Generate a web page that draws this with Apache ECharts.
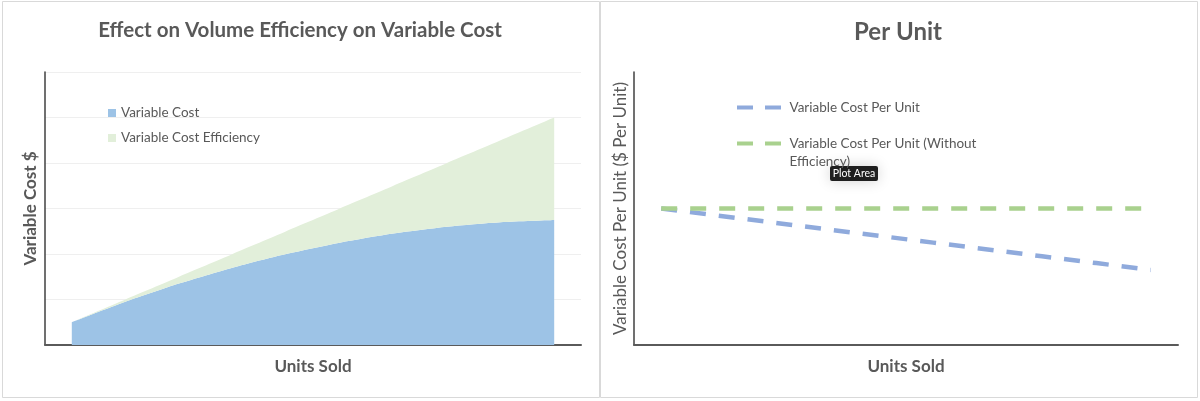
<!DOCTYPE html>
<html>
<head>
<meta charset="utf-8">
<script src="https://cdn.jsdelivr.net/npm/echarts@6/dist/echarts.min.js"></script>
<style>
html,body{margin:0;padding:0;background:#ffffff;}
#c{width:1200px;height:401px;}
</style>
</head>
<body>
<div id="c"></div>
<script>
// ---- data ----
const categories = ['1', '2', '3', '4', '5', '6', '7', '8', '9', '10'];
const variableCost = [0.5, 0.95, 1.35, 1.7, 2.0, 2.25, 2.45, 2.6, 2.7, 2.75];
const variableCostEfficiency = [0, 0.05, 0.15, 0.3, 0.5, 0.75, 1.05, 1.4, 1.8, 2.25];
const perUnit = [1.0, 0.95, 0.9, 0.85, 0.8, 0.75, 0.7, 0.65, 0.6, 0.55];
const perUnitWithoutEfficiency = [1, 1, 1, 1, 1, 1, 1, 1, 1, 1];

const FONT = 'Lato, "Open Sans", sans-serif';
const TXT = '#595959';
const LONG_NAME = 'Variable Cost Per Unit (Without Efficiency)';
const DASH_ICON = 'path://M0,0H16V4H0Z M28,0H44V4H28Z';

const chart = echarts.init(document.getElementById('c'), null, {renderer: 'canvas'});

const axisLineX = {show: true, lineStyle: {color: '#5a5a5a', width: 2}};
const axisLineY = {show: true, lineStyle: {color: '#404040', width: 1.5}};

chart.setOption({
  animation: false,
  backgroundColor: '#ffffff',
  textStyle: {fontFamily: FONT},
  graphic: [
    {type: 'rect', shape: {x: 2.5, y: 1.5, width: 597, height: 396}, style: {fill: 'none', stroke: '#d9d9d9', lineWidth: 1}, z: -10},
    {type: 'rect', shape: {x: 600.5, y: 1.5, width: 597, height: 396}, style: {fill: 'none', stroke: '#d9d9d9', lineWidth: 1}, z: -10},
    {
      type: 'group', left: 830, top: 166, z: 100,
      children: [
        {type: 'rect', shape: {x: 0, y: 0, width: 48, height: 15, r: 2},
         style: {fill: '#1f1f1f', shadowBlur: 14, shadowColor: 'rgba(0,0,0,0.18)'}},
        {type: 'text', x: 24, y: 7.5,
         style: {text: 'Plot Area', fill: '#ffffff', font: '10.5px ' + FONT, align: 'center', verticalAlign: 'middle'}}
      ]
    }
  ],
  title: [
    {text: 'Effect on Volume Efficiency on Variable Cost', left: 300, top: 20, textAlign: 'center', padding: 0,
     textStyle: {fontFamily: FONT, fontWeight: 'bold', fontSize: 20.5, color: TXT}},
    {text: 'Per Unit', left: 898, top: 20, textAlign: 'center', padding: 0,
     textStyle: {fontFamily: FONT, fontWeight: 'bold', fontSize: 24, color: TXT}}
  ],
  legend: [
    {
      data: ['Variable Cost', 'Variable Cost Efficiency'],
      orient: 'vertical', left: 108, top: 105, padding: 0, itemGap: 9,
      icon: 'rect', itemWidth: 8, itemHeight: 8,
      textStyle: {fontFamily: FONT, fontSize: 13.5, color: TXT, lineHeight: 16}
    },
    {
      data: ['Variable Cost Per Unit', LONG_NAME],
      orient: 'vertical', left: 737, top: 98.5, padding: 0, itemGap: 0,
      icon: DASH_ICON, itemWidth: 45, itemHeight: 4, itemStyle: {borderWidth: 0},
      formatter: function (n) {
        return n === LONG_NAME ? ' \nVariable Cost Per Unit (Without\nEfficiency)' : n;
      },
      textStyle: {fontFamily: FONT, fontSize: 13.5, color: TXT, lineHeight: 18, padding: [0, 0, 0, 3]}
    }
  ],
  grid: [
    {left: 45, top: 72, width: 536, height: 273, containLabel: false},
    {left: 634, top: 72, width: 544, height: 273, containLabel: false}
  ],
  xAxis: [
    {type: 'category', gridIndex: 0, data: categories, boundaryGap: true,
     axisLine: axisLineX, axisTick: {show: false}, axisLabel: {show: false}, splitLine: {show: false},
     name: 'Units Sold', nameLocation: 'middle', nameGap: 13,
     nameTextStyle: {fontFamily: FONT, fontWeight: 'bold', fontSize: 17, color: TXT}},
    {type: 'category', gridIndex: 1, data: categories, boundaryGap: true,
     axisLine: axisLineX, axisTick: {show: false}, axisLabel: {show: false}, splitLine: {show: false},
     name: 'Units Sold', nameLocation: 'middle', nameGap: 13,
     nameTextStyle: {fontFamily: FONT, fontWeight: 'bold', fontSize: 17, color: TXT}}
  ],
  yAxis: [
    {type: 'value', gridIndex: 0, min: 0, max: 6, interval: 1,
     axisLine: axisLineY, axisTick: {show: false}, axisLabel: {show: false},
     splitLine: {show: true, lineStyle: {color: '#efefef', width: 1}},
     name: 'Variable Cost $', nameLocation: 'middle', nameGap: 6,
     nameTextStyle: {fontFamily: FONT, fontWeight: 'bold', fontSize: 17, color: TXT}},
    {type: 'value', gridIndex: 1, min: 0, max: 2, interval: 0.5,
     axisLine: axisLineY, axisTick: {show: false}, axisLabel: {show: false},
     splitLine: {show: false},
     name: 'Variable Cost Per Unit ($ Per Unit)', nameLocation: 'middle', nameGap: 5,
     nameTextStyle: {fontFamily: FONT, fontWeight: 'normal', fontSize: 17, color: TXT}}
  ],
  series: [
    {name: 'Variable Cost', type: 'line', xAxisIndex: 0, yAxisIndex: 0, stack: 'cost',
     data: variableCost, smooth: 0.25, showSymbol: false, symbol: 'none',
     lineStyle: {width: 0}, itemStyle: {color: '#9dc3e6'},
     areaStyle: {color: '#9dc3e6', opacity: 1}},
    {name: 'Variable Cost Efficiency', type: 'line', xAxisIndex: 0, yAxisIndex: 0, stack: 'cost',
     data: variableCostEfficiency, smooth: 0.25, showSymbol: false, symbol: 'none',
     lineStyle: {width: 0}, itemStyle: {color: '#e2efda'},
     areaStyle: {color: '#e2efda', opacity: 1}},
    {name: 'Variable Cost Per Unit', type: 'line', xAxisIndex: 1, yAxisIndex: 1,
     data: perUnit, showSymbol: false, symbol: 'none',
     itemStyle: {color: '#8faadc'},
     lineStyle: {color: '#8faadc', width: 4.5, type: [16, 13]}},
    {name: LONG_NAME, type: 'line', xAxisIndex: 1, yAxisIndex: 1,
     data: perUnitWithoutEfficiency, showSymbol: false, symbol: 'none',
     itemStyle: {color: '#a9d18e'},
     lineStyle: {color: '#a9d18e', width: 4.5, type: [16, 13]}}
  ]
});
</script>
</body>
</html>
